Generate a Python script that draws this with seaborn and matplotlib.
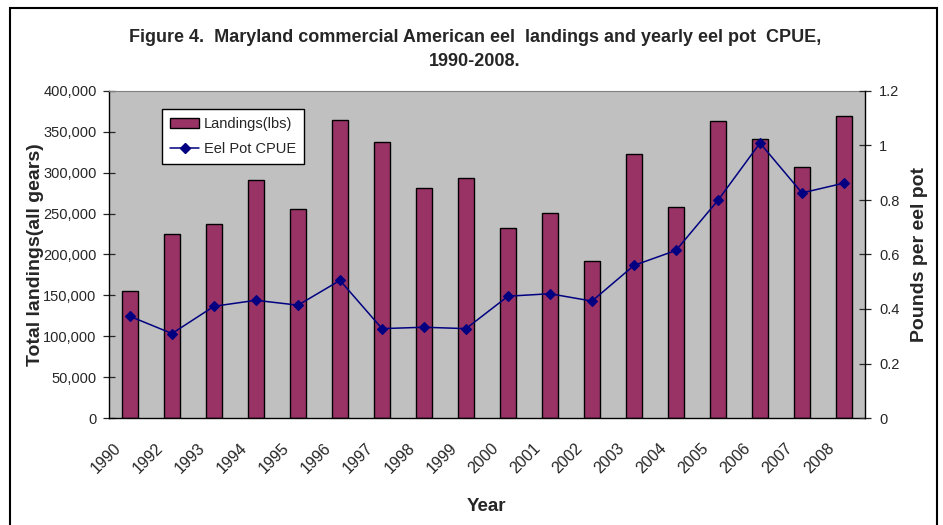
import matplotlib
matplotlib.use("Agg")
import matplotlib.pyplot as plt
from matplotlib.patches import Rectangle, Patch
from matplotlib.lines import Line2D
from matplotlib.ticker import FuncFormatter, MultipleLocator
from matplotlib.transforms import ScaledTranslation
import numpy as np
import pandas as pd
import seaborn as sns

# Maryland commercial American eel landings and eel pot CPUE
years = ["1990", "1992", "1993", "1994", "1995", "1996", "1997", "1998", "1999",
         "2000", "2001", "2002", "2003", "2004", "2005", "2006", "2007", "2008"]
landings_lbs = [155400, 225100, 237300, 290800, 255700, 365000, 337600, 281300, 293600,
                232900, 251200, 191700, 322600, 258600, 363800, 340900, 307500, 369900]
cpue = [0.373, 0.310, 0.410, 0.432, 0.414, 0.505, 0.328, 0.333, 0.328,
        0.447, 0.456, 0.429, 0.560, 0.615, 0.799, 1.009, 0.826, 0.862]

df = pd.DataFrame({"Year": years, "Landings": landings_lbs, "CPUE": cpue})

sns.set_style("white")
plt.rcParams["font.family"] = ["Liberation Sans", "DejaVu Sans"]

BAR = "#993366"
LINE = "#000080"
PLOT_BG = "#C0C0C0"

fig = plt.figure(figsize=(9.43, 5.25), dpi=100)
W, H = 943, 525
AX_L, AX_R, AX_T, AX_B = 109, 865, 91, 418
ax = fig.add_axes([AX_L / W, 1 - AX_B / H, (AX_R - AX_L) / W, (AX_B - AX_T) / H])
ax.set_facecolor(PLOT_BG)

sns.barplot(data=df, x="Year", y="Landings", ax=ax, color=BAR, width=0.4,
            edgecolor="black", linewidth=1, saturation=1, zorder=2)

ax2 = ax.twinx()
sns.pointplot(data=df, x="Year", y="CPUE", ax=ax2, color=LINE, markers="D",
              linewidth=1.1, markersize=5, zorder=3)

n = len(years)
ax.set_xlim(-0.5, n - 0.5)
ax.set_ylim(0, 400000)
ax2.set_ylim(0, 1.2)

ax.yaxis.set_major_locator(MultipleLocator(50000))
ax.yaxis.set_major_formatter(FuncFormatter(lambda v, p: f"{int(v):,}"))
ax2.yaxis.set_major_locator(MultipleLocator(0.2))
ax2.yaxis.set_major_formatter(FuncFormatter(lambda v, p: f"{v:g}"))

# category labels at centres, boundary ticks between categories
ax.set_xticks(np.arange(n))
ax.set_xticklabels(years, rotation=45, ha="right", va="top",
                   rotation_mode="anchor", fontsize=11.5)
ax.tick_params(axis="x", which="major", length=0, pad=16)
ax.set_xticks(np.arange(n + 1) - 0.5, minor=True)
ax.tick_params(axis="x", which="minor", direction="inout", length=8, width=0.9)

ax.tick_params(axis="y", direction="inout", length=8, width=0.9, labelsize=10.5, pad=5)
ax2.tick_params(axis="y", direction="inout", length=8, width=0.9, labelsize=10.5, pad=6)

# nudge the slanted year labels so their ends sit left of each category centre
shift = ScaledTranslation(-17 / 100, 0, fig.dpi_scale_trans)
for lab in ax.get_xticklabels():
    lab.set_transform(lab.get_transform() + shift)

for a in (ax, ax2):
    for s in a.spines.values():
        s.set_visible(False)
for a, side in ((ax, "left"), (ax, "bottom"), (ax2, "right")):
    a.spines[side].set_visible(True)
    a.spines[side].set_color("black")
    a.spines[side].set_linewidth(1.0)
ax.spines["top"].set_visible(True)
ax.spines["top"].set_color("#808080")
ax.spines["top"].set_linewidth(0.8)

ax.set_xlabel("Year", fontsize=13.5, fontweight="bold")
ax.set_ylabel("Total landings(all gears)", fontsize=14, fontweight="bold")
ax2.set_ylabel("Pounds per eel pot", fontsize=14, fontweight="bold")
PW, PH = AX_R - AX_L, AX_B - AX_T
ax.xaxis.set_label_coords((486.5 - AX_L) / PW, -(498 - AX_B) / PH)
ax.yaxis.set_label_coords(-(AX_L - 44) / PW, 0.5)
ax2.yaxis.set_label_coords(1 + (911 - AX_R) / PW, 0.5)

fig.text(475 / W, 1 - 37.5 / H,
         "Figure 4.  Maryland commercial American eel  landings and yearly eel pot  CPUE,",
         ha="center", va="center", fontsize=13, fontweight="bold")
fig.text(475 / W, 1 - 62 / H, "1990-2008.", ha="center", va="center",
         fontsize=13, fontweight="bold")

handles = [Patch(facecolor=BAR, edgecolor="black", linewidth=1),
           Line2D([], [], color=LINE, marker="D", markersize=5, linewidth=1.1)]
leg = fig.legend(handles, ["Landings(lbs)", "Eel Pot CPUE"],
                 loc="upper left", bbox_to_anchor=(162 / W, 1 - 109 / H),
                 fontsize=10.5, frameon=True, fancybox=False, framealpha=1,
                 edgecolor="black", handlelength=2.0, handletextpad=0.3,
                 borderpad=0.55, labelspacing=0.75, borderaxespad=0)
leg.get_frame().set_linewidth(1.0)

fig.patches.append(Rectangle((9.5 / W, -0.02), (937 - 9.5) / W, 1 - 7.5 / H + 0.02,
                             transform=fig.transFigure, fill=False,
                             edgecolor="black", linewidth=1.5))

fig.savefig("out.png", dpi=100, facecolor="white")
